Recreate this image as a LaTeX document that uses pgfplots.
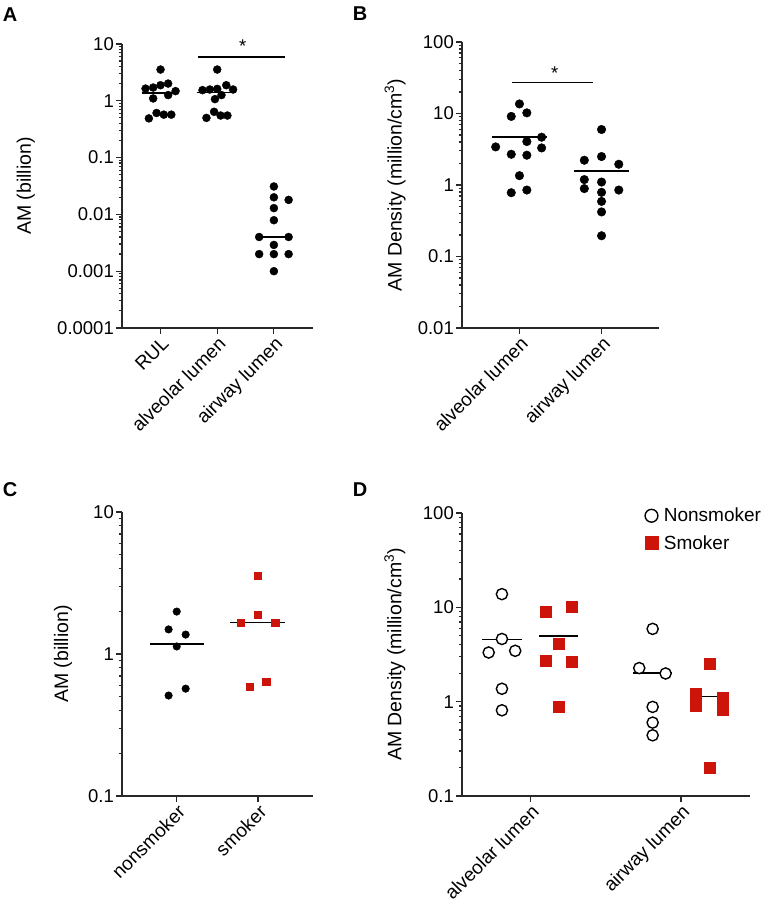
\documentclass[border=0pt]{standalone}
\usepackage{pgfplots}
\pgfplotsset{compat=1.18}
\usepackage{fontspec}
\setmainfont{Liberation Sans}
\definecolor{smokered}{RGB}{204,20,10}
\definecolor{axgray}{RGB}{40,40,40}
\newcommand{\yfont}{\fontsize{18.5}{21}\selectfont}
\newcommand{\xfont}{\fontsize{19}{22}\selectfont}
\newcommand{\lfont}{\fontsize{19.5}{22}\selectfont}
\newcommand{\pfont}{\fontsize{20}{22}\selectfont\bfseries}
\pgfplotsset{
  gpax/.style={
    scale only axis, anchor=south west,
    axis x line*=bottom, axis y line*=left,
    axis line style={axgray, line width=1.5pt, -},
    tick align=outside,
    major tick length=6pt, minor tick length=3.5pt,
    every tick/.style={axgray, line width=1.2pt},
    /pgf/number format/assume math mode=true,
    xticklabel style={font=\xfont, text=black, rotate=45, anchor=north east, inner sep=1pt},
    yticklabel style={font=\yfont, text=black, inner sep=2pt},
    every axis y label/.style={rotate=90, anchor=center, font=\lfont},
    clip=false,
  },
  dotm/.style={only marks, mark=*, mark options={fill=black, draw=black, solid}},
  sqm/.style={only marks, mark=square*, mark options={fill=smokered, draw=smokered, solid}},
  ringm/.style={only marks, mark=*, mark options={fill=white, draw=black, line width=1.4pt, solid}},
  medl/.style={black, line width=1.6pt, mark=none},
}
\begin{document}
\begin{tikzpicture}
\path[use as bounding box] (0pt,0pt) rectangle (770pt,912pt);

% ---------------- Panel A ----------------
\node[font=\pfont] at (10pt,897pt) {A};
\begin{axis}[ymode=log, gpax, at={(122pt,584pt)}, width=191pt, height=284pt,
  xmin=-0.68, xmax=2.69, ymin=1e-4, ymax=10,
  xtick={0,1,2}, xticklabels={RUL, alveolar lumen, airway lumen},
  ytick={1e-4,1e-3,1e-2,0.1,1,10}, yticklabels={0.0001,0.001,0.01,0.1,1,10},
  minor ytick={2e-4,3e-4,4e-4,5e-4,6e-4,7e-4,8e-4,9e-4,2e-3,3e-3,4e-3,5e-3,6e-3,7e-3,8e-3,9e-3,0.02,0.03,0.04,0.05,0.06,0.07,0.08,0.09,0.2,0.3,0.4,0.5,0.6,0.7,0.8,0.9,2,3,4,5,6,7,8,9},
  ylabel={AM (billion)}, ylabel style={at={(axis description cs:-0.503,0.5)}}]
\addplot[dotm, mark size=4pt] coordinates {
 (0,3.55) (0.134,2.01) (0,1.88) (-0.265,1.64) (-0.13,1.71) (0.265,1.48)
 (-0.13,1.10) (0.134,1.26) (-0.206,0.49) (-0.07,0.61) (0.058,0.57) (0.19,0.57)};
\addplot[dotm, mark size=4pt] coordinates {
 (1,3.55) (0.74,1.54) (0.87,1.58) (1.0,1.62) (1.16,1.88) (1.28,1.58)
 (0.96,1.07) (1.075,1.26) (0.81,0.50) (0.945,0.64) (1.06,0.55) (1.18,0.55)};
\addplot[dotm, mark size=4pt] coordinates {
 (2,0.031) (2,0.020) (2.26,0.018) (2,0.0129) (2,0.0079) (1.74,0.0040)
 (2.26,0.0040) (2,0.0029) (1.74,0.0020) (2,0.0020) (2.26,0.0020) (2,0.0010)};
\addplot[medl] coordinates {(-0.335,1.38) (0.31,1.38)};
\addplot[medl] coordinates {(0.635,1.40) (1.34,1.40)};
\addplot[medl] coordinates {(1.74,0.004) (2.26,0.004)};
\addplot[black, line width=1.2pt, mark=none] coordinates {(0.66,5.9) (2.19,5.9)};
\node[font=\yfont, anchor=base] at (axis cs:1.45,7.07) {*};
\end{axis}

% ---------------- Panel B ----------------
\node[font=\pfont] at (360pt,898pt) {B};
\begin{axis}[ymode=log, gpax, at={(462pt,584pt)}, width=197pt, height=286pt,
  xmin=-0.70, xmax=1.70, ymin=0.01, ymax=100,
  xtick={0,1}, xticklabels={alveolar lumen, airway lumen},
  ytick={0.01,0.1,1,10,100}, yticklabels={0.01,0.1,1,10,100},
  minor ytick={0.02,0.03,0.04,0.05,0.06,0.07,0.08,0.09,0.2,0.3,0.4,0.5,0.6,0.7,0.8,0.9,2,3,4,5,6,7,8,9,20,30,40,50,60,70,80,90},
  ylabel={AM Density (million/cm\textsuperscript{3})}, ylabel style={at={(axis description cs:-0.340,0.5)}}]
\addplot[dotm, mark size=4.3pt] coordinates {
 (0,13.6) (-0.10,9.1) (0.09,10.2) (0.27,4.66) (-0.29,3.41) (0.09,4.05)
 (0.27,3.30) (-0.10,2.69) (0.09,2.61) (0,1.35) (-0.10,0.78) (0.09,0.85)};
\addplot[dotm, mark size=4.3pt] coordinates {
 (1,5.97) (0.79,2.22) (1,2.50) (1.21,1.95) (0.79,1.19) (1,1.10)
 (0.79,0.89) (1,0.79) (1.21,0.85) (1,0.59) (1,0.42) (1,0.195)};
\addplot[medl] coordinates {(-0.34,4.72) (0.33,4.72)};
\addplot[medl] coordinates {(0.67,1.56) (1.33,1.56)};
\addplot[black, line width=1.2pt, mark=none] coordinates {(-0.095,27.2) (0.89,27.2)};
\node[font=\yfont, anchor=base] at (axis cs:0.43,30.3) {*};
\end{axis}

% ---------------- Panel C ----------------
\node[font=\pfont] at (10pt,422pt) {C};
\begin{axis}[ymode=log, gpax, at={(122pt,116pt)}, width=191pt, height=284pt,
  xmin=-0.673, xmax=1.676, ymin=0.1, ymax=10,
  xtick={0,1}, xticklabels={nonsmoker, smoker},
  ytick={0.1,1,10}, yticklabels={0.1,1,10},
  minor ytick={0.2,0.3,0.4,0.5,0.6,0.7,0.8,0.9,2,3,4,5,6,7,8,9},
  ylabel={AM (billion)}, ylabel style={at={(axis description cs:-0.309,0.5)}}]
\addplot[medl] coordinates {(-0.33,1.18) (0.33,1.18)};
\addplot[medl] coordinates {(0.66,1.67) (1.33,1.67)};
\addplot[dotm, mark size=3.8pt] coordinates {
 (0,1.99) (-0.10,1.49) (0.11,1.37) (0,1.13) (0.11,0.57) (-0.10,0.51)};
\addplot[sqm, mark size=3.6pt] coordinates {
 (1,3.56) (1,1.89) (0.79,1.67) (1.21,1.67) (1.10,0.64) (0.893,0.59)};
\end{axis}

% ---------------- Panel D ----------------
\node[font=\pfont] at (360pt,422pt) {D};
\begin{axis}[ymode=log, gpax, at={(462pt,116pt)}, width=288pt, height=283pt,
  xmin=-0.453, xmax=1.458, ymin=0.1, ymax=100,
  xtick={0,1}, xticklabels={alveolar lumen, airway lumen},
  ytick={0.1,1,10,100}, yticklabels={0.1,1,10,100},
  minor ytick={0.2,0.3,0.4,0.5,0.6,0.7,0.8,0.9,2,3,4,5,6,7,8,9,20,30,40,50,60,70,80,90},
  ylabel={AM Density (million/cm\textsuperscript{3})}, ylabel style={at={(axis description cs:-0.233,0.5)}},
  legend style={draw=none, fill=none, at={(axis description cs:0.635,1.025)}, anchor=north west,
    font=\fontsize{19}{22}\selectfont, inner sep=0pt, row sep=8pt, column sep=4pt},
  legend cell align=left,
  legend image code/.code={\draw[#1, mark size=6.4pt] plot coordinates {(0pt,0pt)};}]
\addplot[ringm, mark size=5.6pt] coordinates {
 (-0.188,13.8) (-0.188,4.62) (-0.276,3.32) (-0.10,3.46) (-0.188,1.37) (-0.188,0.81)};
\addlegendentry{Nonsmoker}
\addplot[sqm, mark size=5.5pt] coordinates {
 (0.10,9.07) (0.276,10.2) (0.188,4.13) (0.10,2.71) (0.276,2.67) (0.188,0.88)};
\addlegendentry{Smoker}
\addplot[medl, forget plot] coordinates {(-0.318,4.56) (-0.058,4.56)};
\addplot[medl, forget plot] coordinates {(0.058,4.94) (0.318,4.94)};
\addplot[medl, forget plot] coordinates {(0.682,2.02) (0.942,2.02)};
\addplot[medl, forget plot] coordinates {(1.058,1.13) (1.318,1.13)};
\addplot[ringm, mark size=5.6pt, forget plot] coordinates {
 (0.812,5.91) (0.723,2.27) (0.898,1.99) (0.812,0.88) (0.812,0.60) (0.812,0.44)};
\addplot[sqm, mark size=5.5pt, forget plot] coordinates {
 (1.188,2.54) (1.10,1.21) (1.277,1.10) (1.10,0.90) (1.277,0.82) (1.188,0.20)};
\end{axis}
\end{tikzpicture}
\end{document}
